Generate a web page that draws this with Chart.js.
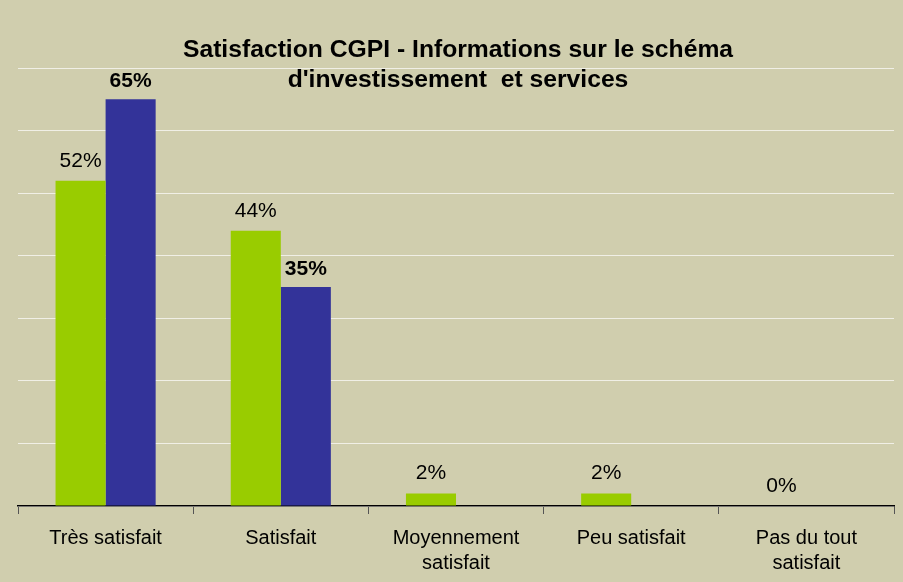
<!DOCTYPE html>
<html>
<head>
<meta charset="utf-8">
<script src="https://cdn.jsdelivr.net/npm/chart.js@4.4.1/dist/chart.umd.min.js"></script>
<style>
html,body{margin:0;padding:0;background:#D0CEAE;}
#wrap{width:903px;height:582px;position:relative;}
</style>
</head>
<body>
<div id="wrap"><canvas id="c" width="903" height="582"></canvas></div>
<script>
const categories = [
  "Très satisfait",
  "Satisfait",
  ["Moyennement", "satisfait"],
  "Peu satisfait",
  ["Pas du tout", "satisfait"]
];
const series1 = [52, 44, 2, 2, 0];
const series2 = [65, 35, null, null, null];
const yMax = 70;
const yStep = 10;
const titleLines = ["Satisfaction CGPI - Informations sur le schéma", "d'investissement  et services"];

const bgPlugin = {
  id: 'bg',
  beforeDraw(chart) {
    const ctx = chart.ctx;
    ctx.save();
    ctx.fillStyle = '#D0CEAE';
    ctx.fillRect(0, 0, chart.width, chart.height);
    ctx.restore();
  }
};

const labelPlugin = {
  id: 'valueLabels',
  afterDatasetsDraw(chart) {
    const ctx = chart.ctx;
    ctx.save();
    ctx.textAlign = 'center';
    ctx.textBaseline = 'alphabetic';
    ctx.fillStyle = '#000';
    chart.data.datasets.forEach((ds, di) => {
      const meta = chart.getDatasetMeta(di);
      meta.data.forEach((el, i) => {
        const v = ds.data[i];
        if (v === null || v === undefined) return;
        ctx.font = (di === 1 ? 'bold ' : '') + '21px "Liberation Sans", Arial, sans-serif';
        const off = di === 1 ? 12 : 14;
        ctx.fillText(v + '%', el.x, el.y - off);
      });
    });
    ctx.restore();
  }
};

const titlePlugin = {
  id: 'customTitle',
  afterDraw(chart) {
    const ctx = chart.ctx;
    ctx.save();
    ctx.textAlign = 'center';
    ctx.textBaseline = 'alphabetic';
    ctx.fillStyle = '#000';
    ctx.font = 'bold 24.7px "Liberation Sans", Arial, sans-serif';
    ctx.fillText(titleLines[0], 458, 57);
    ctx.fillText(titleLines[1], 458, 87);
    ctx.restore();
  }
};

new Chart(document.getElementById('c'), {
  type: 'bar',
  data: {
    labels: categories,
    datasets: [
      { label: 'Série 1', data: series1, backgroundColor: '#99CC00', borderWidth: 0 },
      { label: 'Série 2', data: series2, backgroundColor: '#333399', borderWidth: 0 }
    ]
  },
  options: {
    responsive: false,
    animation: false,
    devicePixelRatio: 1,
    layout: { padding: { left: 18, right: 9, top: 68, bottom: 0 } },
    plugins: { legend: { display: false }, title: { display: false }, tooltip: { enabled: false } },
    datasets: { bar: { categoryPercentage: 0.5714, barPercentage: 1.0 } },
    scales: {
      x: {
        afterFit(scale) { scale.height = 76; },
        grid: { display: true, drawOnChartArea: false, drawTicks: true, tickLength: 8, color: '#555', lineWidth: 1 },
        border: { display: true, color: '#000', width: 1.5 },
        ticks: {
          color: '#000',
          padding: 12,
          maxRotation: 0,
          autoSkip: false,
          font: { family: '"Liberation Sans", Arial, sans-serif', size: 20, lineHeight: 1.25 }
        }
      },
      y: {
        min: 0,
        max: yMax,
        ticks: { display: false, stepSize: yStep },
        grid: { color: '#F0EFE6', lineWidth: 1, drawTicks: false },
        border: { display: false }
      }
    }
  },
  plugins: [bgPlugin, labelPlugin, titlePlugin]
});
</script>
</body>
</html>
